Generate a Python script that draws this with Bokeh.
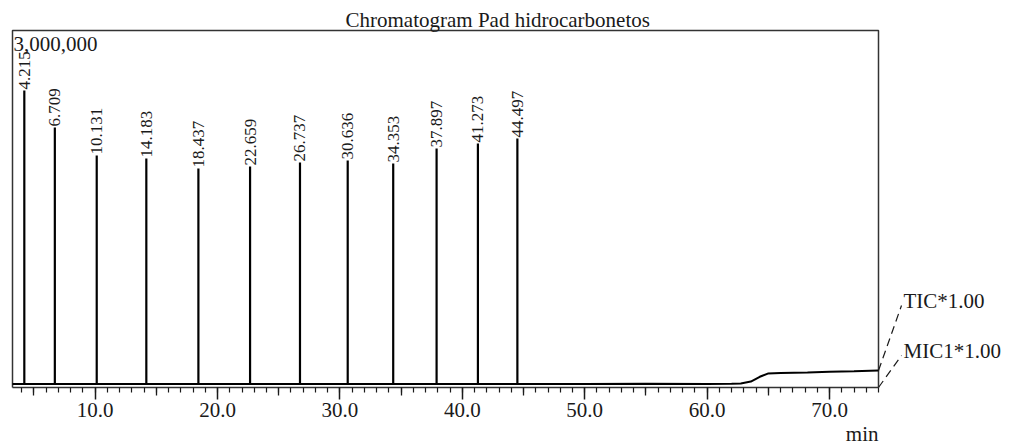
import math
from bokeh.plotting import figure
from bokeh.models import Range1d, FixedTicker, PrintfTickFormatter, LinearAxis
from bokeh.core.properties import value
from bokeh.embed import file_html
from bokeh.resources import INLINE

# ---- data ----
peak_times = [4.215, 6.709, 10.131, 14.183, 18.437, 22.659, 26.737, 30.636, 34.353, 37.897, 41.273, 44.497]
peak_heights = [2496000, 2185000, 1950000, 1924000, 1840000, 1857000, 1891000, 1908000, 1882000, 2008000, 2050000, 2092000]
peak_labels = ["4.215", "6.709", "10.131", "14.183", "18.437", "22.659", "26.737", "30.636", "34.353", "37.897", "41.273", "44.497"]

baseline_times = [3.25, 20.0, 40.0, 50.0, 55.0, 60.0, 62.0, 62.75, 63.57, 64.3, 64.96, 66.0, 68.2, 70.0, 72.0, 74.0]
baseline_values = [30000, 30000, 30000, 30000, 31000, 30000, 31000, 34000, 50000, 90000, 117000, 121000, 126000, 132000, 137000, 143000]
peak_base = [30000] * len(peak_times)

major_ticks = [10, 20, 30, 40, 50, 60, 70]
mid_ticks = [5, 15, 25, 35, 45, 55, 65]
minor_ticks = list(range(4, 75))

x_start, x_end = 3.25, 74.0
y_start, y_end = 0, 3000000
trace_labels = ["TIC*1.00", "MIC1*1.00"]
trace_end_values = [143000, 0]

FONT = "Liberation Serif"
INK = "#1a1a1a"

W, H = 1013, 447
# visual frame (pixels): left 12, right 878, top 30, bottom 387
FL, FR, FT, FB = 12, 878, 30, 387
xpx = (x_end - x_start) / (FR - FL)      # data units per pixel
ypx = (y_end - y_start) / (FB - FT)

xr = Range1d(x_start - FL * xpx, x_end + (W - FR) * xpx)
yr = Range1d(y_start - (H - FB) * ypx, y_end + FT * ypx)

p = figure(width=W, height=H, x_range=xr, y_range=yr,
           output_backend="svg", toolbar_location=None, y_axis_location=None,
           min_border_left=0, min_border_right=0, min_border_top=0, min_border_bottom=0)
p.background_fill_color = "white"
p.border_fill_color = "white"
p.xgrid.visible = False
p.ygrid.visible = False
p.outline_line_color = None

ax = p.xaxis[0]
ax.fixed_location = y_start
ax.bounds = (x_start, x_end)
ax.ticker = FixedTicker(ticks=major_ticks, minor_ticks=minor_ticks)
ax.formatter = PrintfTickFormatter(format="%.1f")
ax.major_tick_in = 0
ax.major_tick_out = 12
ax.minor_tick_in = 0
ax.minor_tick_out = 5
ax.major_tick_line_color = INK
ax.minor_tick_line_color = INK
ax.major_tick_line_width = 1.5
ax.minor_tick_line_width = 1.2
ax.axis_line_color = "#333333"
ax.axis_line_width = 1.5
ax.major_label_text_font = FONT
ax.major_label_text_font_size = "21px"
ax.major_label_text_color = INK
ax.major_label_standoff = 3

# second overlaid axis: medium ticks every 5 min
ax2 = LinearAxis(fixed_location=y_start, bounds=(x_start, x_end),
                 ticker=FixedTicker(ticks=[], minor_ticks=mid_ticks),
                 axis_line_color=None,
                 major_tick_in=0, major_tick_out=0, minor_tick_in=0, minor_tick_out=8,
                 minor_tick_line_color=INK, minor_tick_line_width=1.3,
                 major_label_text_font_size="0px")
p.add_layout(ax2, "below")

# visual frame (left, top, right sides)
p.line([x_start, x_start, x_end, x_end], [y_start, y_end, y_end, y_start], line_color="#333333", line_width=1.5)

# baseline trace
p.line(baseline_times, baseline_values, line_color="black", line_width=2)
# peaks
p.segment(x0=peak_times, y0=peak_base, x1=peak_times, y1=peak_heights, line_color="black", line_width=2.2)
# peak labels
p.text(x=peak_times, y=peak_heights, text=peak_labels, angle=math.pi / 2,
       text_align="left", text_baseline="middle", y_offset=-1,
       text_font=value(FONT), text_font_size="17px", text_color=INK)

# title
p.text(x=[x_start], y=[y_end], text=["Chromatogram Pad hidrocarbonetos"], x_offset=333, y_offset=-11,
       text_baseline="middle", text_align="left",
       text_font=value(FONT), text_font_size="21px", text_color=INK)
# full-scale label
p.text(x=[x_start], y=[y_end], text=["3,000,000"], x_offset=1, y_offset=6,
       text_baseline="top", text_align="left",
       text_font=value(FONT), text_font_size="21px", text_color=INK)
# axis unit
p.text(x=[x_end], y=[y_start], text=["min"], x_offset=0, y_offset=46,
       text_baseline="middle", text_align="right",
       text_font=value(FONT), text_font_size="21px", text_color=INK)

# trace name labels with dashed leaders
label_offsets = [87, 37]
leader_tops = [82, 32]
for name, endv, off, top in zip(trace_labels, trace_end_values, label_offsets, leader_tops):
    p.text(x=[x_end], y=[y_start], text=[name], x_offset=25, y_offset=-off,
           text_baseline="middle", text_align="left",
           text_font=value(FONT), text_font_size="21px", text_color=INK)
    p.segment(x0=[x_end], y0=[endv], x1=[x_end + 23 * xpx], y1=[y_start + top * ypx],
              line_color=INK, line_width=1.2, line_dash="8 5")

open("out.html", "w").write(file_html(p, INLINE))
